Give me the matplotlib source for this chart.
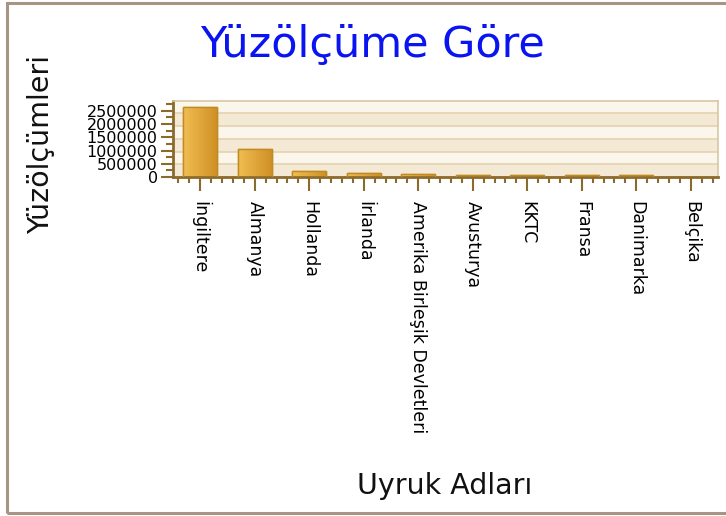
import matplotlib
matplotlib.use("Agg")
import matplotlib.pyplot as plt
import numpy as np
from matplotlib.patches import Rectangle
from matplotlib.ticker import MultipleLocator

COUNTRIES = ["İngiltere", "Almanya", "Hollanda", "İrlanda",
             "Amerika Birleşik Devletleri", "Avusturya", "KKTC", "Fransa",
             "Danimarka", "Belçika"]
AREAS = [2650000, 1050000, 215000, 150000, 95000, 90000, 88000, 85000, 82000, 0]

TITLE = "Yüzölçüme Göre"
X_LABEL = "Uyruk Adları"
Y_LABEL = "Yüzölçümleri"

Y_MAX = 2880000
AXIS_COLOR = "#8b6a2b"

fig = plt.figure(figsize=(7.26, 5.16), dpi=100)
fig.patch.set_facecolor("white")

# outer frame
fig.patches.append(Rectangle((0.009, 0.006), 1.2, 0.988, transform=fig.transFigure,
                             fill=False, edgecolor="#a89482", linewidth=2.2))

ax = fig.add_axes([0.2383, 0.657, 0.7507, 0.1478])

# striped background
step = Y_MAX / 6
for i in range(6):
    ax.axhspan(i * step, (i + 1) * step,
               color="#f4e9d4" if i % 2 == 0 else "#fbf6ec", zorder=0, lw=0)
    ax.axhline(i * step, color="#e5d3b0", lw=1.2, zorder=0.5)

# bars with horizontal gradient
x = np.arange(len(COUNTRIES))
bars = ax.bar(x, AREAS, width=0.62, color="#dda238", edgecolor="#c08a25",
              linewidth=1, zorder=2)
grad = np.linspace(0, 1, 64).reshape(1, -1)
cmap = matplotlib.colors.LinearSegmentedColormap.from_list("g", ["#f1bd52", "#cf9126"])
for b in bars:
    h = b.get_height()
    if h <= 0:
        continue
    im = ax.imshow(grad, cmap=cmap, aspect="auto", zorder=2.5,
                   extent=(b.get_x(), b.get_x() + b.get_width(), 0, h))
    im.set_clip_path(b)
    ax.add_patch(Rectangle((b.get_x(), 0), b.get_width(), h, fill=False,
                           edgecolor="#c08a25", lw=1, zorder=3))
ax.set_xlim(-0.5, len(COUNTRIES) - 0.5)
ax.set_ylim(0, Y_MAX)

for s in ["top", "right"]:
    ax.spines[s].set_color("#d8c8a2")
    ax.spines[s].set_linewidth(1.2)
for s in ["left", "bottom"]:
    ax.spines[s].set_color(AXIS_COLOR)
    ax.spines[s].set_linewidth(2)

ax.set_xticks(x)
ax.set_xticklabels(COUNTRIES, rotation=-90, ha="center", va="top", fontsize=12.5)
ax.xaxis.set_minor_locator(MultipleLocator(0.2))
ax.yaxis.set_minor_locator(MultipleLocator(250000))
ax.set_yticks(np.arange(0, 2500001, 500000))
ax.set_yticklabels([str(v) for v in range(0, 2500001, 500000)], fontsize=11.5)
ax.tick_params(axis="x", which="major", length=10, width=1.5, color=AXIS_COLOR, pad=7)
ax.tick_params(axis="x", which="minor", length=4, width=1.5, color=AXIS_COLOR)
ax.tick_params(axis="y", which="major", length=9, width=1.5, color=AXIS_COLOR, pad=2)
ax.tick_params(axis="y", which="minor", length=5, width=1.5, color=AXIS_COLOR)

fig.text(0.513, 0.912, TITLE, ha="center", va="center", fontsize=31, color="#0a14f0")
fig.text(0.613, 0.058, X_LABEL, ha="center", va="center", fontsize=20.5, color="#111111")
fig.text(0.056, 0.72, Y_LABEL, ha="center", va="center", fontsize=20.5,
         rotation=90, color="#111111")

fig.savefig("out.png", dpi=100)
